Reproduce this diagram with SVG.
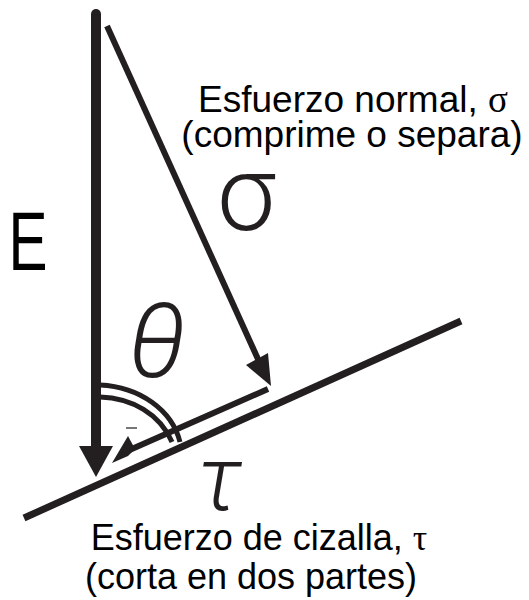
<svg xmlns="http://www.w3.org/2000/svg" width="529" height="600" viewBox="0 0 529 600">
<style>
.ln{stroke:#231f20;fill:none}
.hd{fill:#231f20;stroke:none}
.lbl{font-family:"Liberation Sans",Arial,sans-serif;fill:#000}
.sym{font-family:Roboto,"Liberation Sans",sans-serif;font-weight:300;fill:#231f20}
</style>
<rect width="529" height="600" fill="#fff"/>
<g id="connectors">
<line id="plane" class="ln" x1="24" y1="518" x2="461" y2="321" stroke-width="7"/>
<line id="E-arrow" class="ln" x1="96" y1="14" x2="96" y2="452" stroke-width="10" stroke-linecap="round"/>
<polygon class="hd" points="79,446 113,446 96,477"/>
<line id="sigma-arrow" class="ln" x1="107" y1="26" x2="262" y2="368" stroke-width="6"/>
<polygon class="hd" points="268,353 246,365 271,386"/>
<line id="tau-arrow" class="ln" x1="268" y1="389" x2="125" y2="452" stroke-width="6"/>
<polygon class="hd" points="112,463 128,436 135,449 128,456"/>
<path id="theta-arc-outer" class="ln" d="M100,385 C140,387 172,410 180,442" stroke-width="5"/>
<path id="theta-arc-inner" class="ln" d="M100,397 C132,398 160,414 172,442" stroke-width="5"/>
<line x1="126" y1="428" x2="137" y2="428" stroke="#777" stroke-width="2"/>
</g>
<g id="node-E">
<text class="lbl" x="8.4" y="270" font-size="84" textLength="39" lengthAdjust="spacingAndGlyphs" fill="#231f20">E</text>
</g>
<g id="node-sigma">
<text class="sym" x="217" y="230" font-size="105">σ</text>
</g>
<g id="node-theta">
<text class="sym" x="128" y="377" font-size="104" font-style="italic">θ</text>
</g>
<g id="node-tau">
<text class="sym" x="197" y="510" font-size="90" font-style="italic">τ</text>
</g>
<g id="label-normal">
<text class="lbl" x="353" y="112" font-size="37" text-anchor="middle">Esfuerzo normal, <tspan font-family="Liberation Serif,serif">σ</tspan></text>
<text class="lbl" x="352" y="147" font-size="37" text-anchor="middle">(comprime o separa)</text>
</g>
<g id="label-shear">
<text class="lbl" x="259" y="550" font-size="36" text-anchor="middle">Esfuerzo de cizalla, <tspan font-family="Liberation Serif,serif">τ</tspan></text>
<text class="lbl" x="251" y="589" font-size="36" text-anchor="middle">(corta en dos partes)</text>
</g>
</svg>
